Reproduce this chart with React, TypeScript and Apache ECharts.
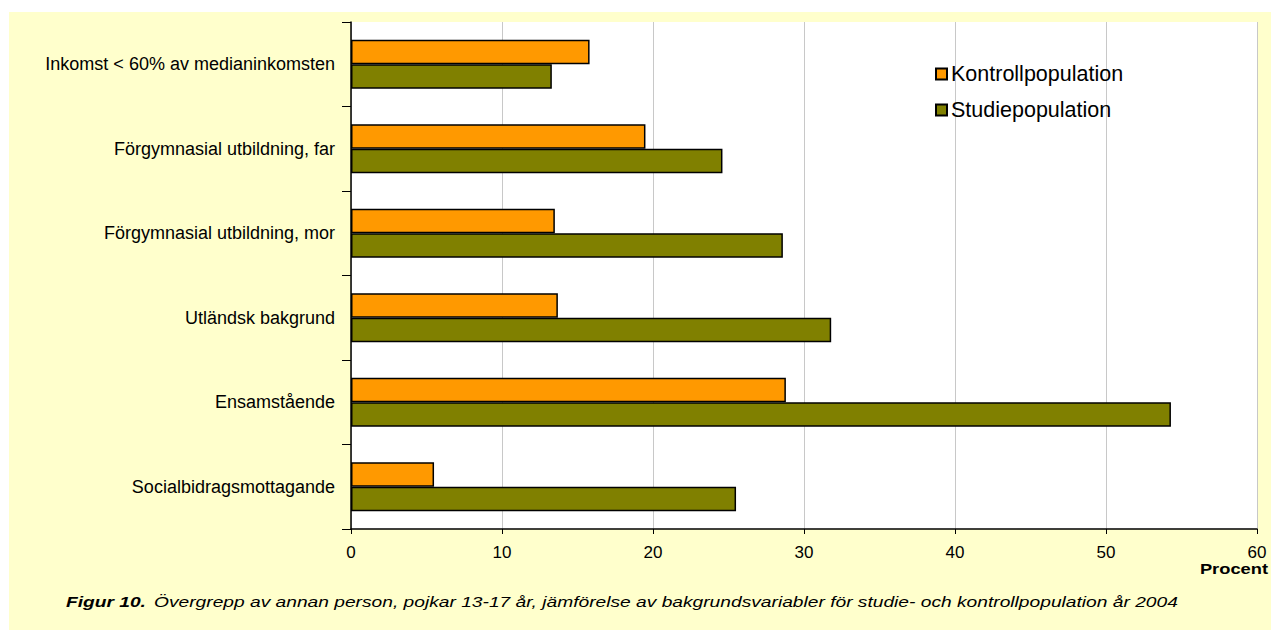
import React, { useEffect, useRef } from "react";
import * as echarts from "echarts";

const categories = [
  "Inkomst < 60% av medianinkomsten",
  "Förgymnasial utbildning, far",
  "Förgymnasial utbildning, mor",
  "Utländsk bakgrund",
  "Ensamstående",
  "Socialbidragsmottagande",
];
const kontroll = [15.8, 19.5, 13.5, 13.7, 28.8, 5.5];
const studie = [13.3, 24.6, 28.6, 31.8, 54.3, 25.5];
const seriesNames = ["Kontrollpopulation", "Studiepopulation"];
const axisTicks = { min: 0, max: 60, interval: 10 };
const axisName = "Procent";
const caption = {
  bold: "Figur 10.",
  rest: "Övergrepp av annan person, pojkar 13-17 år, jämförelse av bakgrundsvariabler för studie- och kontrollpopulation år 2004",
};

const FONT = "'Liberation Sans', Arial, sans-serif";

export default function App() {
  const ref = useRef<HTMLDivElement>(null);

  useEffect(() => {
    if (!ref.current) return;
    const chart = echarts.init(ref.current, null, { renderer: "svg" });
    chart.setOption({
      animation: false,
      textStyle: { fontFamily: FONT },
      graphic: [
        {
          type: "rect",
          z: -10,
          silent: true,
          shape: { x: 9, y: 12, width: 1262, height: 618 },
          style: { fill: "#FFFFCC" },
        },
        {
          // caption, widened to the figure's spaced-out typesetting
          type: "text",
          x: 66,
          y: 602,
          scaleX: 1.2,
          scaleY: 0.92,
          style: {
            text: `{b|${caption.bold}}  {i|${caption.rest}}`,
            textAlign: "left",
            textVerticalAlign: "middle",
            rich: {
              b: { fontSize: 16, fontWeight: "bold", fontStyle: "italic", fontFamily: FONT, fill: "#000" },
              i: { fontSize: 16, fontStyle: "italic", fontFamily: FONT, fill: "#000" },
            },
          },
        },
        {
          type: "text",
          x: 1268,
          y: 569,
          scaleX: 1.22,
          style: {
            text: axisName,
            textAlign: "right",
            textVerticalAlign: "middle",
            fontSize: 15,
            fontWeight: "bold",
            fontFamily: FONT,
            fill: "#000",
          },
        },
      ],
      grid: {
        left: 351,
        right: 14,
        top: 22,
        bottom: 103,
        show: true,
        backgroundColor: "#FFFFFF",
        borderWidth: 0,
        containLabel: false,
      },
      legend: {
        orient: "vertical",
        left: 930,
        top: 58,
        itemWidth: 11,
        itemHeight: 11,
        itemGap: 14,
        icon: "rect",
        textStyle: { fontSize: 21.5, fontFamily: FONT, color: "#000", padding: [0, 0, 0, -1] },
        data: seriesNames,
      },
      xAxis: {
        type: "value",
        min: axisTicks.min,
        max: axisTicks.max,
        interval: axisTicks.interval,
        axisLine: { show: true, lineStyle: { color: "#000", width: 1.5 } },
        axisTick: { show: true, length: 5, lineStyle: { color: "#000" } },
        axisLabel: { fontSize: 17, color: "#000", margin: 15, fontFamily: FONT },
        splitLine: { show: true, lineStyle: { color: "#C8C8C8", width: 1 } },
      },
      yAxis: {
        type: "category",
        inverse: true,
        data: categories,
        axisLine: { show: true, lineStyle: { color: "#000", width: 1.5 } },
        axisTick: { show: true, length: 9, lineStyle: { color: "#000" } },
        axisLabel: { fontSize: 18, color: "#000", margin: 16, fontFamily: FONT },
      },
      series: [
        {
          name: seriesNames[0],
          type: "bar",
          data: kontroll,
          barGap: "0%",
          barCategoryGap: "42%",
          itemStyle: { color: "#FF9900", borderColor: "#000", borderWidth: 1.5 },
        },
        {
          name: seriesNames[1],
          type: "bar",
          data: studie,
          barGap: "0%",
          barCategoryGap: "42%",
          itemStyle: { color: "#808000", borderColor: "#000", borderWidth: 1.5 },
        },
      ],
    });
    return () => chart.dispose();
  }, []);

  return (
    <div
      ref={ref}
      style={{ position: "absolute", left: 0, top: 0, width: 1271, height: 632 }}
    />
  );
}
